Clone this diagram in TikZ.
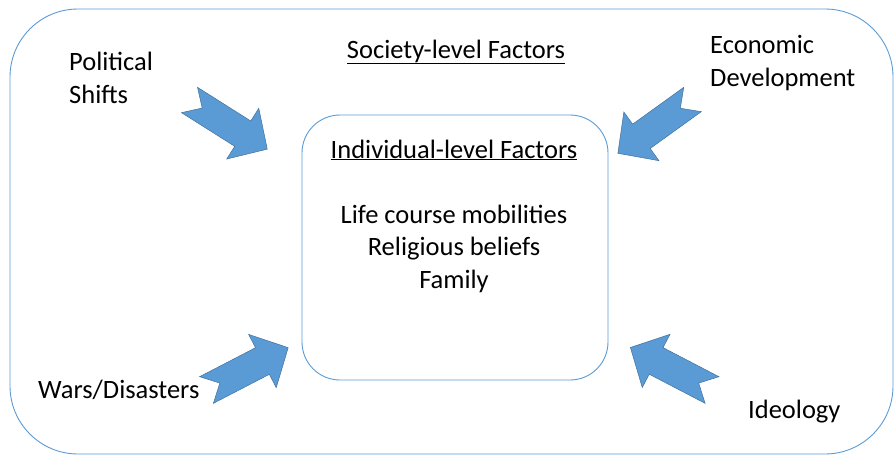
\documentclass[tikz,border=0pt]{standalone}
\usepackage{fontspec}
\setmainfont{Carlito}
\usetikzlibrary{positioning}
\definecolor{frameblue}{RGB}{91,155,213}
\definecolor{arrowblue}{RGB}{91,155,213}
\definecolor{arrowedge}{RGB}{65,113,156}

\begin{document}
\begin{tikzpicture}[
    x=1pt, y=-1pt,
    frame/.style={
        rectangle, draw=frameblue, line width=0.9pt, inner sep=0pt
    },
    label/.style={
        inner sep=0pt, font=\fontsize{26.5}{32.5}\selectfont
    },
    arrowbody/.style={fill=arrowblue, draw=arrowedge, line width=0.5pt, line join=miter},
    flowarrow/.pic={
        \draw[arrowbody] (0,-15) -- (63,-15) -- (63,-30) -- (92,0) -- (63,30)
            -- (63,15) -- (0,15) -- (15,0) -- cycle;
    }
]
\useasboundingbox (0,0) rectangle (894,455);

% the two levels
\node[frame, rounded corners=68pt, minimum width=883pt, minimum height=445pt]
    (society-box) at (451.5,231.5) {};
\node[frame, rounded corners=38pt, minimum width=306pt, minimum height=265pt]
    (indiv-box) at (455,247.5) {};

% base of a multi-line node is its last line
\node[label, anchor=base] (society) at (456,58) {\underline{Society-level Factors}};
\node[label, anchor=base] (indiv) at (454,158) {\underline{Individual-level Factors}};
\node[label, anchor=base, align=center] (items) at (454,288)
    {Life course mobilities\\Religious beliefs\\Family};

% outside influences
\node[label, anchor=base west, align=left] (political) at (69,103) {Political\\Shifts};
\node[label, anchor=base west, align=left] (economic) at (710,86) {Economic\\Development};
\node[label, anchor=base west] (wars) at (38,398) {Wars/Disasters};
\node[label, anchor=base west] (ideology) at (748,418) {Ideology};

% block arrows pointing in
\coordinate (political-tail) at (189.5,100);
\coordinate (economic-tail) at (692.5,99.5);
\coordinate (wars-tail) at (206.5,390);
\coordinate (ideology-tail) at (712,390);
\pic[rotate=-32.3] at (political-tail) {flowarrow};
\pic[rotate=-144.2] at (economic-tail) {flowarrow};
\pic[rotate=27.4] at (wars-tail) {flowarrow};
\pic[rotate=152.5] at (ideology-tail) {flowarrow};
\end{tikzpicture}
\end{document}
